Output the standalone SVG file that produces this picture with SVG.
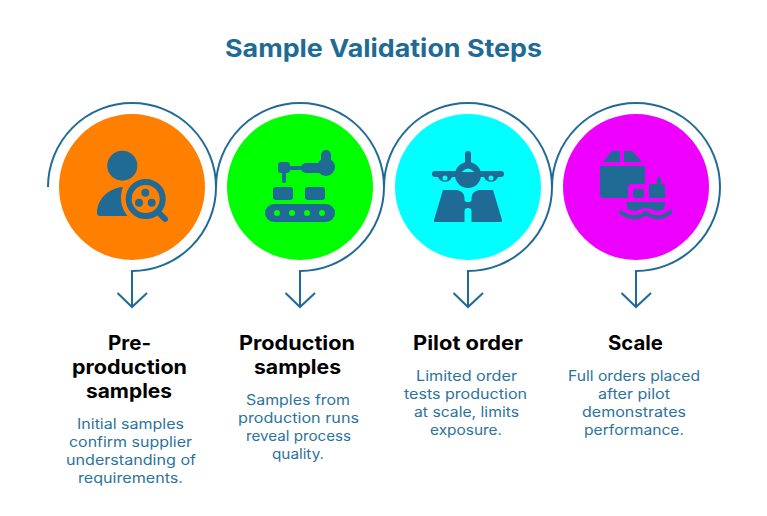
<svg xmlns="http://www.w3.org/2000/svg" width="767" height="516" viewBox="0 0 767 516">
<style>
text{font-family:"Inter","Noto Sans","Liberation Sans",sans-serif;text-anchor:middle}
.t{font-size:24.500px;font-weight:700;fill:#1f6b96}
.h{font-size:19.500px;font-weight:700;fill:#000}
.d{font-size:14px;fill:#2b739c}
.c{fill:none;stroke:#1f6b96;stroke-width:2}
.i{fill:#1f6b96}
</style>
<rect width="767" height="516" fill="#fff"/>
<text class="t" x="383.500" y="57" textLength="317" lengthAdjust="spacingAndGlyphs">Sample Validation Steps</text>
<g id="connectors">
<path class="c" d="M48 187A84 84 0 1 1 132 271V306"/><path class="c" d="M117.500 293L132 307L147 293"/>
<path class="c" d="M216 187A84 84 0 1 1 300 271V306"/><path class="c" d="M285.500 293L300 307L315 293"/>
<path class="c" d="M384 187A84 84 0 1 1 468 271V306"/><path class="c" d="M453.500 293L468 307L483 293"/>
<path class="c" d="M552 187A84 84 0 1 1 636 271V306"/><path class="c" d="M621.500 293L636 307L651 293"/>
</g>
<g id="node-1">
<circle cx="132" cy="187" r="73" fill="#ff7f00"/>
<circle class="i" cx="122.300" cy="165.700" r="15"/>
<path class="i" d="M123 187C108 188 97 200 97 213Q97 216 100 216H127.500C121 208 119 197 123 187Z"/>
<circle cx="145.700" cy="199" r="17" fill="none" stroke="#1f6b96" stroke-width="6"/>
<circle class="i" cx="145.300" cy="192.700" r="4"/><circle class="i" cx="139" cy="202.700" r="4"/><circle class="i" cx="151.700" cy="202.700" r="4"/>
<path d="M158 212L165 219" stroke="#1f6b96" stroke-width="6" stroke-linecap="round"/>
<text class="h" x="129.500" y="350" textLength="43" lengthAdjust="spacingAndGlyphs">Pre-</text>
<text class="h" x="129.500" y="374" textLength="115" lengthAdjust="spacingAndGlyphs">production</text>
<text class="h" x="129" y="398" textLength="86" lengthAdjust="spacingAndGlyphs">samples</text>
<text class="d" x="130.500" y="429" textLength="107" lengthAdjust="spacingAndGlyphs">Initial samples</text>
<text class="d" x="130.500" y="447" textLength="123" lengthAdjust="spacingAndGlyphs">confirm supplier</text>
<text class="d" x="131" y="465" textLength="130" lengthAdjust="spacingAndGlyphs">understanding of</text>
<text class="d" x="130.500" y="483" textLength="105" lengthAdjust="spacingAndGlyphs">requirements.</text>
</g>
<g id="node-2">
<circle cx="300" cy="187" r="73" fill="#00ff00"/>
<rect class="i" x="278" y="162" width="12" height="11" rx="3"/>
<rect class="i" x="282" y="170" width="4" height="13" rx="2"/>
<rect class="i" x="288" y="166" width="18" height="4"/>
<rect class="i" x="301" y="163" width="28" height="10" rx="5"/>
<circle class="i" cx="326" cy="167" r="9"/>
<rect class="i" x="321" y="150" width="10" height="18" rx="5"/>
<rect class="i" x="273" y="187" width="20" height="13" rx="3"/><rect class="i" x="305" y="187" width="20" height="13" rx="3"/>
<rect class="i" x="265" y="204" width="70" height="18" rx="9"/>
<g fill="#00ff00"><circle cx="277" cy="213" r="3"/><circle cx="292" cy="213" r="3"/><circle cx="307" cy="213" r="3"/><circle cx="322" cy="213" r="3"/></g>
<text class="h" x="297" y="350" textLength="116" lengthAdjust="spacingAndGlyphs">Production</text>
<text class="h" x="297.500" y="374" textLength="87" lengthAdjust="spacingAndGlyphs">samples</text>
<text class="d" x="298" y="405" textLength="104" lengthAdjust="spacingAndGlyphs">Samples from</text>
<text class="d" x="298.500" y="423" textLength="121" lengthAdjust="spacingAndGlyphs">production runs</text>
<text class="d" x="298.500" y="441" textLength="105" lengthAdjust="spacingAndGlyphs">reveal process</text>
<text class="d" x="298" y="459" textLength="52" lengthAdjust="spacingAndGlyphs">quality.</text>
</g>
<g id="node-3">
<circle cx="468" cy="187" r="73" fill="#00ffff"/>
<rect class="i" x="465" y="151" width="6" height="20" rx="3"/>
<rect class="i" x="432" y="171" width="72" height="6" rx="3"/>
<circle class="i" cx="468" cy="175" r="13"/>
<path d="M461.500 172Q468 165 474.500 172Z" fill="#00ffff"/>
<path class="i" d="M438 177A7.500 7.500 0 0 0 452 177ZM484 177A7.500 7.500 0 0 0 498 177Z"/>
<circle cx="445" cy="178" r="2.500" fill="#00ffff"/><circle cx="491" cy="178" r="2.500" fill="#00ffff"/>
<path class="i" d="M443 190L434 220Q433.500 222 436 222H464.500V211Q464.500 208 468 208Q471.500 208 471.500 211V222H500Q502.500 222 502 220L493 190H479Q472 191 471.500 198V200Q471.500 202 468 202Q464.500 202 464.500 200V198Q464 191 457 190Z"/>
<text class="h" x="468" y="350" textLength="110" lengthAdjust="spacingAndGlyphs">Pilot order</text>
<text class="d" x="466.500" y="381" textLength="101" lengthAdjust="spacingAndGlyphs">Limited order</text>
<text class="d" x="465.500" y="399" textLength="123" lengthAdjust="spacingAndGlyphs">tests production</text>
<text class="d" x="466.500" y="417" textLength="105" lengthAdjust="spacingAndGlyphs">at scale, limits</text>
<text class="d" x="466" y="435" textLength="72" lengthAdjust="spacingAndGlyphs">exposure.</text>
</g>
<g id="node-4">
<circle cx="636" cy="187" r="73" fill="#ee00ff"/>
<path class="i" d="M603 162L612 151H620V162ZM624 151H632L642 162H624Z"/>
<path class="i" d="M600 166H645V184H632Q628 184 628 188V198H604Q600 198 600 194Z"/>
<rect class="i" x="633" y="189" width="11" height="9" rx="2"/>
<path class="i" d="M651 184H657V179Q657 177 659 177Q661 177 661 179V184H663Q665 184 665 187V198H649V186Q649 184 651 184Z"/>
<path class="i" d="M626 202H665L664 209Q660 211 656 211Q650 208 646 208Q641 208 636 211Q632 211 628 209Z"/>
<path d="M620.500 212Q633 222 646 213Q658 222 670.500 212" fill="none" stroke="#1f6b96" stroke-width="4" stroke-linecap="round"/>
<text class="h" x="635.500" y="350" textLength="55" lengthAdjust="spacingAndGlyphs">Scale</text>
<text class="d" x="634" y="381" textLength="132" lengthAdjust="spacingAndGlyphs">Full orders placed</text>
<text class="d" x="634" y="399" textLength="72" lengthAdjust="spacingAndGlyphs">after pilot</text>
<text class="d" x="634" y="417" textLength="104" lengthAdjust="spacingAndGlyphs">demonstrates</text>
<text class="d" x="634" y="435" textLength="100" lengthAdjust="spacingAndGlyphs">performance.</text>
</g>
</svg>
